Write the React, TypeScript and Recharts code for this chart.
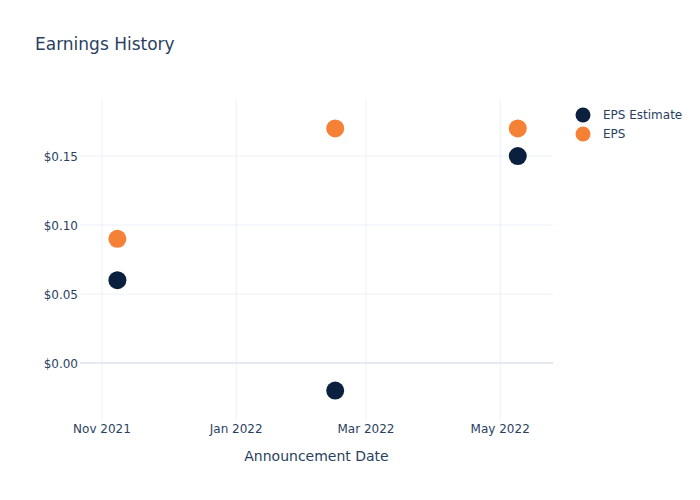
import { ScatterChart, Scatter, XAxis, YAxis, ReferenceLine } from 'recharts'

const dates = ['2021-11-08', '2022-02-15', '2022-05-09']
const epsEstimate = [0.06, -0.02, 0.15]
const eps = [0.09, 0.17, 0.17]
const xTickDates = ['2021-11-01', '2022-01-01', '2022-03-01', '2022-05-01']
const xTickLabels = ['Nov 2021', 'Jan 2022', 'Mar 2022', 'May 2022']
const yTicks = [0, 0.05, 0.1, 0.15]

const ts = (d: string) => new Date(d + 'T00:00:00Z').getTime()

const estimateData = dates.map((d, i) => ({ x: ts(d), y: epsEstimate[i] }))
const epsData = dates.map((d, i) => ({ x: ts(d), y: eps[i] }))
const xTicks = xTickDates.map(ts)

const textColor = '#2a3f5f'
const gridColor = '#ebf0f8'
const font = '"DejaVu Sans", "Open Sans", sans-serif'

const series = [
  { name: 'EPS Estimate', color: '#0b1f3f', data: estimateData },
  { name: 'EPS', color: '#f58136', data: epsData },
]

const dot = (color: string) => (props: any) => (
  <circle cx={props.cx} cy={props.cy} r={9} fill={color} />
)

const XTick = ({ x, y, payload }: any) => (
  <text x={x} y={y + 5} textAnchor="middle" fill={textColor} fontSize={12} fontFamily={font}>
    {xTickLabels[xTicks.indexOf(payload.value)]}
  </text>
)

const YTick = ({ x, y, payload }: any) => (
  <text x={x + 6} y={y + 5} textAnchor="end" fill={textColor} fontSize={12} fontFamily={font}>
    {'$' + payload.value.toFixed(2)}
  </text>
)

export default function App() {
  return (
    <div style={{ position: 'absolute', left: 0, top: 0, width: 700, height: 500, background: '#fff' }}>
      <div style={{ position: 'absolute', left: 35, top: 34, fontFamily: font, fontSize: 17, color: textColor }}>
        Earnings History
      </div>
      <div style={{ position: 'absolute', left: 575, top: 105, fontFamily: font, fontSize: 12, color: textColor }}>
        {series.map(item => (
          <div key={item.name} style={{ display: 'flex', alignItems: 'center', height: 19 }}>
            <svg width={16} height={16} style={{ marginRight: 12 }}>
              <circle cx={8} cy={8} r={7.5} fill={item.color} />
            </svg>
            <span>{item.name}</span>
          </div>
        ))}
      </div>
      <ScatterChart width={700} height={500} margin={{ top: 100, right: 147, bottom: 30, left: 0 }}>
        <XAxis
          type="number"
          dataKey="x"
          domain={[ts('2021-10-22'), ts('2022-05-25')]}
          ticks={xTicks}
          interval={0}
          tick={<XTick />}
          axisLine={false}
          tickLine={false}
          height={50}
          label={{ value: 'Announcement Date', position: 'insideBottom', offset: 0, fill: textColor, fontSize: 14, fontFamily: font, dy: -9 }}
        />
        <YAxis
          type="number"
          dataKey="y"
          domain={[-0.0413, 0.1906]}
          ticks={yTicks}
          interval={0}
          tick={<YTick />}
          axisLine={false}
          tickLine={false}
          width={80}
          tickMargin={2}
        />
        {xTicks.map(t => (
          <ReferenceLine key={'x' + t} x={t} stroke={gridColor} strokeWidth={1} />
        ))}
        {yTicks.filter(t => t !== 0).map(t => (
          <ReferenceLine key={'y' + t} y={t} stroke={gridColor} strokeWidth={1} />
        ))}
        <ReferenceLine y={0} stroke="#e3e8f2" strokeWidth={2} />
        {series.map(s => (
          <Scatter key={s.name} name={s.name} data={s.data} fill={s.color} shape={dot(s.color)} isAnimationActive={false} />
        ))}
      </ScatterChart>
    </div>
  )
}
